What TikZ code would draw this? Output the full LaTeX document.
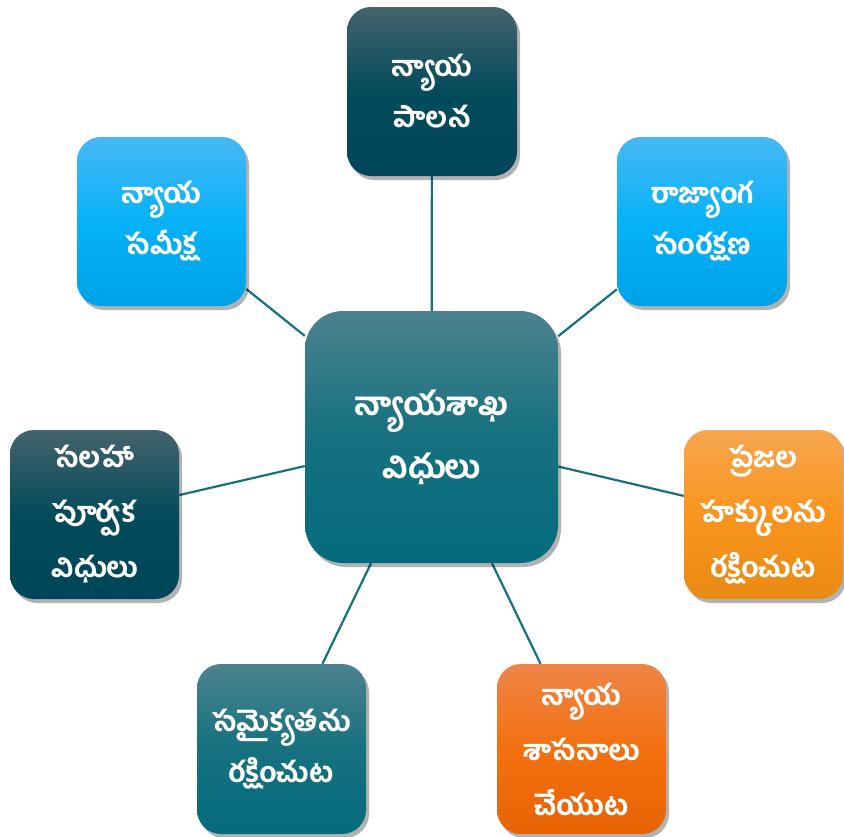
\documentclass[tikz,border=0pt]{standalone}
\usepackage{fontspec}
\IfFontExistsTF{Hind Guntur Bold}
  {\newfontfamily\te[Script=Telugu]{Hind Guntur Bold}}
  {\IfFontExistsTF{Hind Guntur SemiBold}
    {\newfontfamily\te[Script=Telugu]{Hind Guntur SemiBold}}
    {\newfontfamily\te[Script=Telugu,FakeBold=2]{Hind Guntur}}}
\usetikzlibrary{shadows,backgrounds}
\definecolor{dtA}{HTML}{44636C}
\definecolor{dtB}{HTML}{044B5B}
\definecolor{dtC}{HTML}{00465A}
\definecolor{lbA}{HTML}{47B8F5}
\definecolor{lbB}{HTML}{07B2F8}
\definecolor{lbC}{HTML}{00A2E6}
\definecolor{mtA}{HTML}{4C828F}
\definecolor{mtB}{HTML}{16717F}
\definecolor{mtC}{HTML}{036B7E}
\definecolor{orA}{HTML}{F7A650}
\definecolor{orB}{HTML}{F9951E}
\definecolor{orC}{HTML}{E98A12}
\definecolor{roA}{HTML}{EF8548}
\definecolor{roB}{HTML}{F3700F}
\definecolor{roC}{HTML}{E76305}
\definecolor{link}{HTML}{17707F}
\begin{document}
\begin{tikzpicture}[x=1pt,y=1pt,
  box/.style={rectangle, rounded corners=24pt, minimum width=169pt, minimum height=169pt,
    inner sep=0pt, align=center, text=white,
    font=\te\fontsize{28}{51}\selectfont,
    drop shadow={shadow xshift=3pt, shadow yshift=-4pt, opacity=0.3, fill=black}},
  three/.style={font=\te\fontsize{28}{55}\selectfont},
  bigbox/.style={box, rounded corners=38pt, minimum width=253pt, minimum height=252pt,
    font=\te\fontsize{32}{63}\selectfont},
  darkteal/.style={top color=dtA, bottom color=dtC, middle color=dtB},
  lightblue/.style={top color=lbA, bottom color=lbC, middle color=lbB},
  midteal/.style={top color=mtA, bottom color=mtC, middle color=mtB},
  orange/.style={top color=orA, bottom color=orC, middle color=orB},
  redorange/.style={top color=roA, bottom color=roC, middle color=roB},
  link/.style={draw=link, line width=2.2pt}]
\useasboundingbox (0,0) rectangle (844,-836);
\node[bigbox, midteal] (c) at (431.5,-437) {న్యాయశాఖ\\విధులు};
\node[box, darkteal, minimum width=170pt] (top) at (432,-91.5) {న్యాయ\\పాలన};
\node[box, lightblue] (tl) at (161.5,-221.5) {న్యాయ\\సమీక్ష};
\node[box, lightblue, minimum width=170pt] (tr) at (702,-221.5) {రాజ్యాంగ\\సంరక్షణ};
\node[box, darkteal, three] (l) at (94.5,-514.5) {సలహా\\పూర్వక\\విధులు};
\node[box, orange, three, minimum width=159pt] (r) at (763.5,-514.5) {ప్రజల\\హక్కులను\\రక్షించుట};
\node[box, midteal, minimum height=170pt] (bl) at (281.5,-749) {సమైక్యతను\\రక్షించుట};
\node[box, redorange, three, minimum height=170pt] (br) at (581.5,-749) {న్యాయ\\శాసనాలు\\చేయుట};
\begin{scope}[on background layer]
\draw[link] (c) -- (top);
\draw[link] (c) -- (tl);
\draw[link] (c) -- (tr);
\draw[link] (c) -- (l);
\draw[link] (c) -- (r);
\draw[link] (c) -- (bl);
\draw[link] (c) -- (br);
\end{scope}
\end{tikzpicture}
\end{document}
